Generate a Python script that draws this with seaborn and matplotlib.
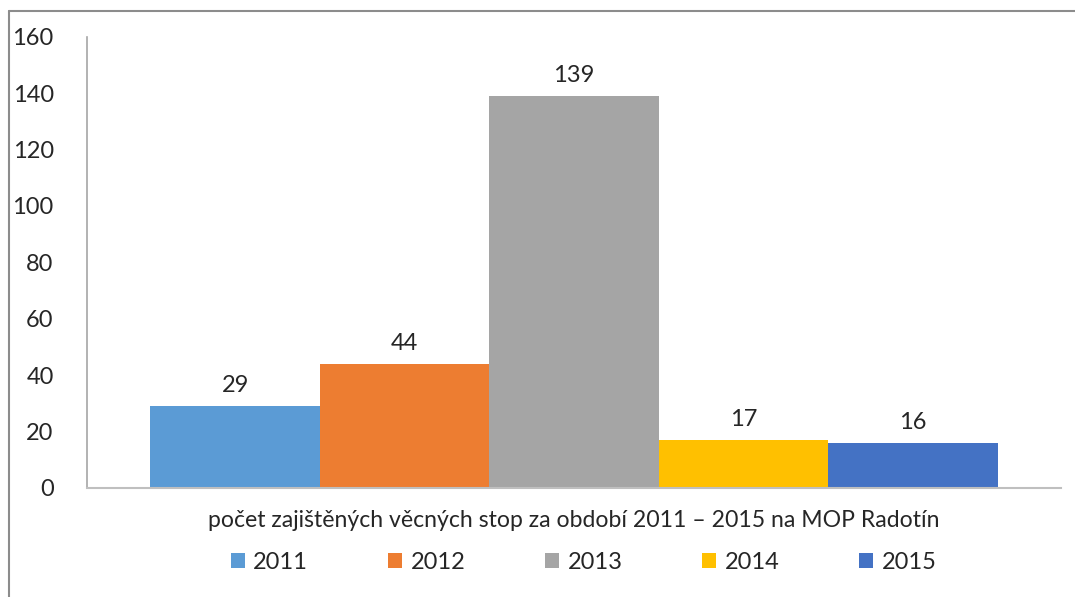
import pandas as pd
import matplotlib
matplotlib.use('Agg')
import matplotlib.pyplot as plt
from matplotlib.lines import Line2D
from matplotlib.patches import Patch
import seaborn as sns

sns.set_style('white')
plt.rcParams['font.family'] = ['Lato', 'DejaVu Sans']

# data
years = ['2011', '2012', '2013', '2014', '2015']
counts = [29, 44, 139, 17, 16]
colors = ['#5B9BD5', '#ED7D31', '#A5A5A5', '#FFC000', '#4472C4']
category = 'počet zajištěných věcných stop za období 2011 – 2015 na MOP Radotín'
yticks = [0, 20, 40, 60, 80, 100, 120, 140, 160]

df = pd.DataFrame({'kategorie': [category] * len(years), 'rok': years, 'pocet': counts})

FS = 17

fig = plt.figure(figsize=(10.75, 5.97), dpi=100)
ax = fig.add_axes([0.081, 0.1826, 0.906, 0.756])

sns.barplot(data=df, x='kategorie', y='pocet', hue='rok', palette=colors,
            width=0.87, saturation=1, legend=False, linewidth=0, ax=ax)

for cont in ax.containers:
    ax.bar_label(cont, padding=7, fontsize=FS, color='#262626')

ax.set_ylim(0, 160)
ax.set_yticks(yticks)
ax.set_xlim(-0.5, 0.5)
ax.set_xticks([])
ax.set_xlabel(category, fontsize=16.6, color='#262626', labelpad=16)
ax.set_ylabel('')
ax.tick_params(axis='y', length=0, pad=24, labelsize=FS, labelcolor='#262626')

sns.despine(ax=ax, top=True, right=True)
ax.spines['left'].set_color('#A6A6A6')
ax.spines['bottom'].set_color('#BFBFBF')
ax.spines['left'].set_linewidth(1.2)
ax.spines['bottom'].set_linewidth(1.5)

handles = [Patch(facecolor=c, edgecolor='none') for c in colors]
fig.legend(handles, years, loc='center', bbox_to_anchor=(0.543, 0.058), ncol=5,
           frameon=False, fontsize=FS, handlelength=0.6, handleheight=0.6,
           handletextpad=0.35, columnspacing=3.38, labelcolor='#262626')

# outer frame (only top and left edges visible in the screenshot)
fig.add_artist(Line2D([9 / 1075, 1], [1 - 11 / 597, 1 - 11 / 597],
                      transform=fig.transFigure, color='#8C8C8C', lw=1.5))
fig.add_artist(Line2D([9 / 1075, 9 / 1075], [0, 1 - 11 / 597],
                      transform=fig.transFigure, color='#8C8C8C', lw=1.5))

fig.savefig('out.png', dpi=100)
